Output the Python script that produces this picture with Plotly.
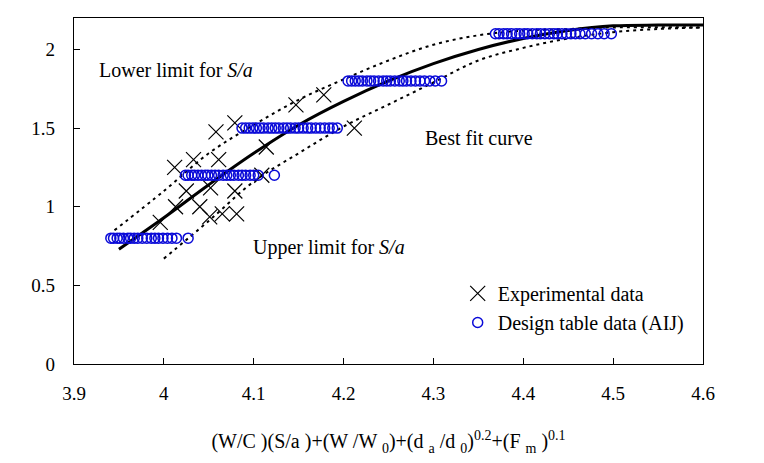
import plotly.graph_objects as go

# ---------------- data ----------------
exp_x = [3.996, 4.013, 4.040, 4.025, 4.052, 4.079, 4.012, 4.033, 4.061, 4.109,
         4.051, 4.065, 4.081, 4.058, 4.079, 4.114, 4.147, 4.178, 4.212]
exp_y = [0.90, 1.00, 1.00, 1.10, 1.12, 1.10, 1.25, 1.30, 1.30, 1.20,
         0.935, 0.955, 0.955, 1.476, 1.533, 1.38, 1.648, 1.711, 1.50]

design_levels = [0.8, 1.2, 1.5, 1.8, 2.1]
design_x_08 = [3.941, 3.944, 3.948, 3.951, 3.955, 3.960, 3.963, 3.967, 3.971, 3.976,
               3.981, 3.986, 3.990, 3.994, 3.999, 4.004, 4.009, 4.014, 4.027]
design_x_12 = [4.024, 4.027, 4.031, 4.034, 4.038, 4.042, 4.046, 4.049, 4.053, 4.057,
               4.061, 4.066, 4.070, 4.074, 4.078, 4.083, 4.087, 4.091, 4.096, 4.100,
               4.105, 4.123]
design_x_15 = [4.087, 4.091, 4.095, 4.099, 4.103, 4.107, 4.111, 4.116, 4.120, 4.124,
               4.128, 4.133, 4.137, 4.141, 4.146, 4.150, 4.155, 4.160, 4.164, 4.169,
               4.174, 4.179, 4.184, 4.188, 4.193]
design_x_18 = [4.205, 4.209, 4.213, 4.217, 4.221, 4.226, 4.230, 4.234, 4.239, 4.244,
               4.248, 4.252, 4.257, 4.262, 4.266, 4.270, 4.275, 4.280, 4.285, 4.290,
               4.296, 4.302, 4.309]
design_x_21 = [4.369, 4.373, 4.378, 4.382, 4.387, 4.392, 4.396, 4.401, 4.405, 4.410,
               4.415, 4.419, 4.424, 4.429, 4.434, 4.438, 4.443, 4.448, 4.453, 4.458,
               4.463, 4.469, 4.476, 4.483, 4.490, 4.498]
design_rows = [design_x_08, design_x_12, design_x_15, design_x_18, design_x_21]

fit_x = [3.95, 4.00, 4.05, 4.10, 4.15, 4.20, 4.25, 4.30, 4.35, 4.40, 4.45, 4.50, 4.55, 4.60]
fit_y = [0.73, 0.93, 1.14, 1.34, 1.52, 1.67, 1.80, 1.91, 2.00, 2.07, 2.12, 2.15, 2.155, 2.155]

low_lim_x = [3.945, 4.00, 4.05, 4.10, 4.15, 4.20, 4.25, 4.30, 4.35, 4.40, 4.45, 4.50, 4.60]
low_lim_y = [0.85, 1.10, 1.34, 1.52, 1.68, 1.81, 1.93, 2.03, 2.09, 2.12, 2.13, 2.14, 2.14]

up_lim_x = [4.00, 4.05, 4.10, 4.15, 4.20, 4.25, 4.30, 4.35, 4.40, 4.45, 4.50, 4.55, 4.60]
up_lim_y = [0.67, 0.91, 1.16, 1.34, 1.51, 1.65, 1.79, 1.93, 2.01, 2.07, 2.11, 2.13, 2.14]

x_ticks = [3.9, 4.0, 4.1, 4.2, 4.3, 4.4, 4.5, 4.6]
x_tick_labels = ["3.9", "4", "4.1", "4.2", "4.3", "4.4", "4.5", "4.6"]
y_ticks = [0, 0.5, 1, 1.5, 2]
y_tick_labels = ["0", "0.5", "1", "1.5", "2"]

# ---------------- figure ----------------
FONT = "Liberation Serif"
BLUE = "#0a0ad8"
TXT = 20
TICK = 19

fig = go.Figure()

fig.add_trace(go.Scatter(x=low_lim_x, y=low_lim_y, mode="lines",
                         line=dict(color="black", width=2, dash="3px,4px", shape="spline"),
                         showlegend=False, hoverinfo="skip"))
fig.add_trace(go.Scatter(x=up_lim_x, y=up_lim_y, mode="lines",
                         line=dict(color="black", width=2, dash="3px,4px", shape="spline"),
                         showlegend=False, hoverinfo="skip"))
fig.add_trace(go.Scatter(x=fit_x, y=fit_y, mode="lines",
                         line=dict(color="black", width=3, shape="spline"),
                         showlegend=False, hoverinfo="skip"))

dx, dy = [], []
for lvl, row in zip(design_levels, design_rows):
    dx += row
    dy += [lvl] * len(row)

fig.add_trace(go.Scatter(x=exp_x, y=exp_y, mode="markers", name="Experimental data",
                         legendgroup="a",
                         marker=dict(symbol="x-thin", size=15,
                                     line=dict(color="black", width=1.2))))
fig.add_trace(go.Scatter(x=dx, y=dy, mode="markers", name="Design table data (AIJ)",
                         legendgroup="b",
                         marker=dict(symbol="circle-open", size=10, color=BLUE,
                                     line=dict(color=BLUE, width=1.5))))

ann_font = dict(family=FONT, size=TXT, color="black")
fig.add_annotation(x=3.9256, y=1.87, xref="x", yref="y", xanchor="left", showarrow=False,
                   text="Lower limit for <i>S/a</i>", font=ann_font)
fig.add_annotation(x=4.288, y=1.435, xref="x", yref="y", xanchor="left", showarrow=False,
                   text="Best fit curve", font=ann_font)
fig.add_annotation(x=4.097, y=0.738, xref="x", yref="y", xanchor="left", showarrow=False,
                   text="Upper limit for <i>S/a</i>", font=ann_font)

axis_common = dict(showline=True, linecolor="black", linewidth=1.2, mirror=True,
                   ticks="inside", ticklen=6, tickcolor="black", tickwidth=1,
                   showgrid=False, zeroline=False,
                   tickfont=dict(family=FONT, size=TICK, color="black"))

fig.update_xaxes(range=[3.9, 4.6], tickvals=x_ticks, ticktext=x_tick_labels,
                 ticklabelstandoff=12,
                 title=dict(text="(W/C )(S/a )+(W /W <sub>0</sub>)+(d <sub>a</sub> /d <sub>0</sub>)<sup>0.2</sup>+(F <sub>m</sub> )<sup>0.1</sup>",
                            font=dict(family=FONT, size=TXT, color="black"), standoff=31),
                 **axis_common)
fig.update_yaxes(range=[0, 2.2], tickvals=y_ticks, ticktext=y_tick_labels,
                 ticklabelstandoff=14, **axis_common)

fig.update_layout(
    width=764, height=463,
    margin=dict(l=74, r=61, t=18, b=99),
    paper_bgcolor="white", plot_bgcolor="white",
    font=dict(family=FONT, size=TXT, color="black"),
    showlegend=True,
    legend=dict(x=0.6100, y=0.162, xref="paper", yref="paper", xanchor="left", yanchor="middle",
                bgcolor="rgba(0,0,0,0)", font=dict(family=FONT, size=TXT, color="black"),
                tracegroupgap=0, itemwidth=30),
)

fig.write_html("out.html")
